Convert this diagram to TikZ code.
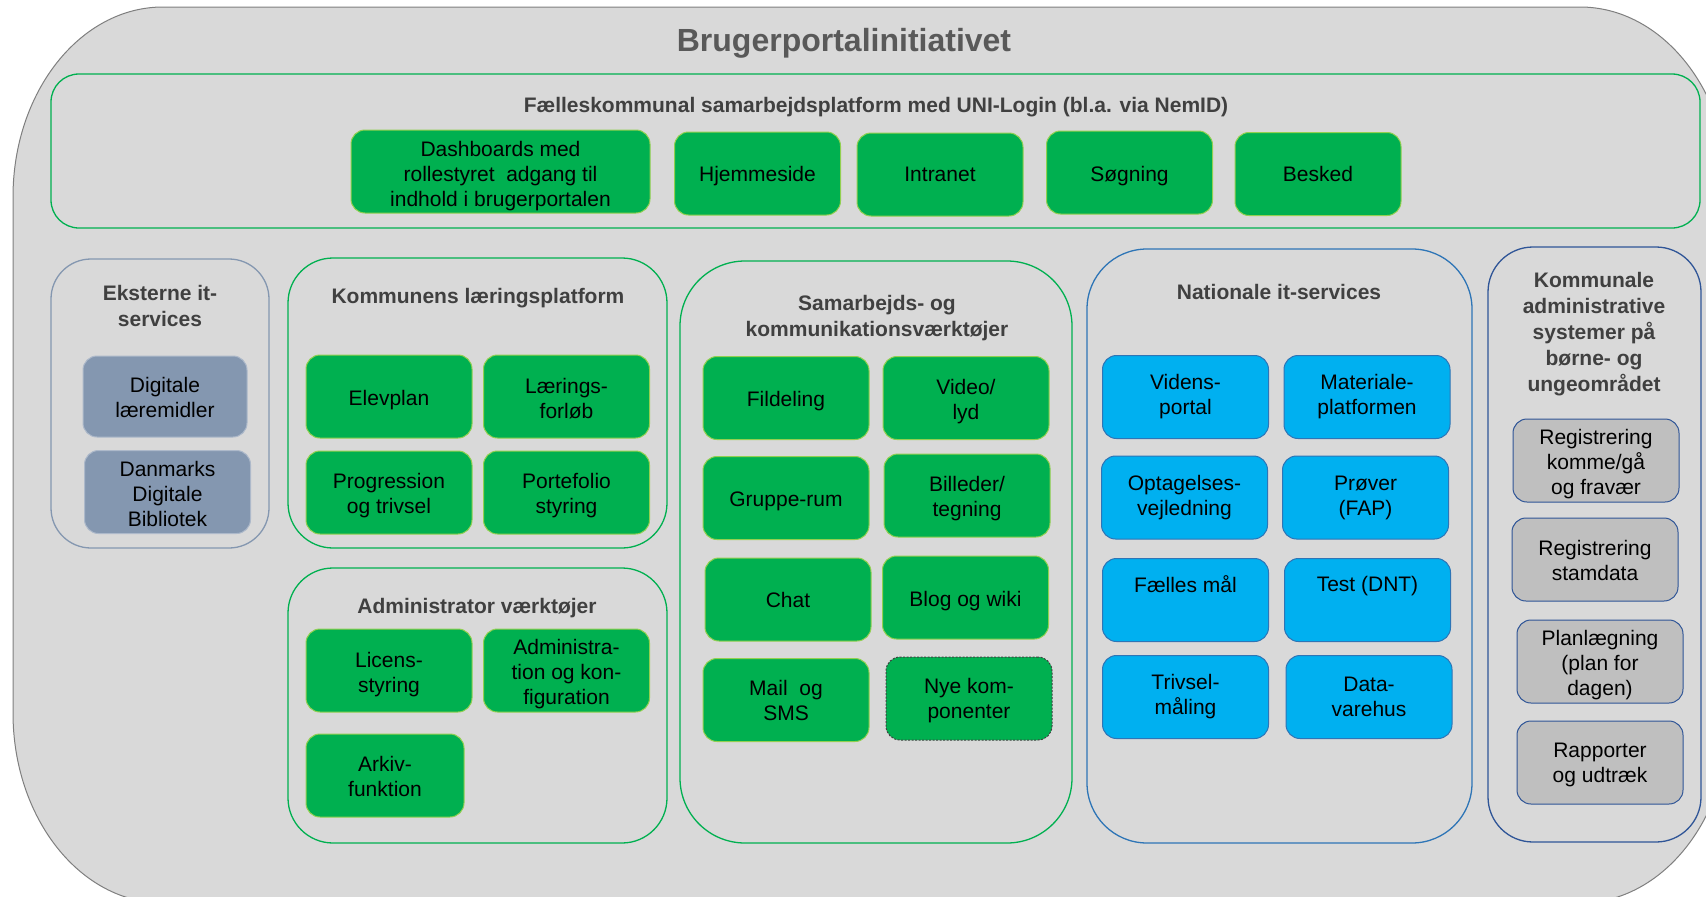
\documentclass[tikz,border=0pt]{standalone}
\usepackage{fontspec}
\setmainfont{Liberation Sans}
\usepackage{tikz}
\definecolor{portal}{HTML}{D9D9D9}
\definecolor{portaledge}{HTML}{7F7F7F}
\definecolor{green}{HTML}{00B050}
\definecolor{lightgreen}{HTML}{92D050}
\definecolor{skyblue}{HTML}{00B0F0}
\definecolor{midblue}{HTML}{2E75B6}
\definecolor{darkblue}{HTML}{2F5597}
\definecolor{slate}{HTML}{8497B0}
\definecolor{slateedge}{HTML}{ADB9CA}
\definecolor{boxgray}{HTML}{BFBFBF}
\definecolor{headgray}{HTML}{404040}
\definecolor{titlegray}{HTML}{595959}
% invisible strut that pushes the first line of a box down
\newcommand\lft[1]{\rule{0pt}{#1}}

\begin{document}
\begin{tikzpicture}[x=1pt, y=-1pt,
  box/.style={rectangle, rounded corners=14pt, minimum width=166pt, minimum height=83pt,
    align=center, inner sep=2pt, line width=1pt, font=\fontsize{21}{25}\selectfont},
  grbox/.style={box, fill=green, draw=lightgreen},
  blbox/.style={box, fill=skyblue, draw=midblue},
  gybox/.style={box, fill=boxgray, draw=darkblue},
  exbox/.style={box, fill=slate, draw=slateedge},
  frame/.style={rounded corners=#1, line width=1.3pt},
  frame/.default=45pt,
  head/.style={font=\fontsize{21}{26}\selectfont\bfseries, text=headgray, align=center}]
\useasboundingbox (0,0) rectangle (1706,897);
\clip (0,0) rectangle (1706,897);

% outer shape
\draw[fill=portal, draw=portaledge, line width=1pt] (163,7) -- (1580,7)
  arc[start angle=-90, end angle=0, x radius=150, y radius=190] -- (1730,713)
  arc[start angle=0, end angle=90, x radius=150, y radius=190] -- (163,903)
  arc[start angle=90, end angle=180, x radius=150, y radius=190] -- (13,197)
  arc[start angle=180, end angle=270, x radius=150, y radius=190] -- cycle;
\node[font=\fontsize{32}{36}\selectfont\bfseries, text=titlegray] (title) at (844,43.5) {Brugerportalinitiativet};

% top platform
\draw[frame=28pt, draw=green] (51,74) rectangle (1700,228);
\node[head] (platform) at (876,107.5) {Fælleskommunal samarbejdsplatform med UNI-Login (bl.a. via NemID)};
\node[grbox, minimum width=299pt] (dash) at (500.5,171.5) {\lft{24pt}Dashboards med\\rollestyret\ \ adgang til\\indhold i brugerportalen};
\node[grbox] (hjem) at (757.5,173.5) {\lft{20.5pt}Hjemmeside};
\node[grbox] (intra) at (940,174.5) {Intranet};
\node[grbox] (soeg) at (1129.5,172.5) {\lft{22pt}Søgning};
\node[grbox] (besked) at (1318,174) {Besked};

% eksterne
\draw[frame=40pt, draw=slate] (51,259) rectangle (269,548);
\node[head] (ekst) at (160,306) {Eksterne it-\\services};
\node[exbox, minimum width=164pt, minimum height=81pt] (laere) at (165,396.5) {\lft{17pt}Digitale\\læremidler};
\node[exbox] (ddb) at (167.5,492) {\lft{18.5pt}Danmarks\\Digitale\\Bibliotek};

% laeringsplatform
\draw[frame, draw=green] (288,258) rectangle (667,548);
\node[head] (kom) at (478,298) {Kommunens læringsplatform};
\node[grbox] (elev) at (389,396.5) {\lft{21.5pt}Elevplan};
\node[grbox] (forloeb) at (566.5,396.5) {\lft{19.5pt}Lærings-\\forløb};
\node[grbox] (prog) at (389,492.5) {\lft{20.5pt}Progression\\og trivsel};
\node[grbox] (port) at (566.5,492.5) {\lft{20.5pt}Portefolio\\styring};

% administrator
\draw[frame, draw=green] (288,568) rectangle (667,843);
\node[head] (adm) at (477,608) {Administrator værktøjer};
\node[grbox] (licens) at (389,670.5) {\lft{22.5pt}Licens-\\styring};
\node[grbox] (konf) at (566.5,670.5) {\lft{22.5pt}Administra-\\tion og kon-\\figuration};
\node[grbox, minimum width=158pt] (arkiv) at (385,775.5) {\lft{17pt}Arkiv-\\funktion};

% samarbejde
\draw[frame=65pt, draw=green] (680,261) rectangle (1072,843);
\node[head] (sam) at (877,318.5) {Samarbejds- og\\kommunikationsværktøjer};
\node[grbox] (fil) at (786,398) {\lft{21.5pt}Fildeling};
\node[grbox] (video) at (966,398) {\lft{21.5pt}Video/\\lyd};
\node[grbox] (rum) at (786,498) {\lft{21.5pt}Gruppe-rum};
\node[grbox] (bill) at (967,495.5) {\lft{20.5pt}Billeder/\\tegning};
\node[grbox] (chat) at (788,599.5) {Chat};
\node[grbox] (blog) at (965.5,597.5) {\lft{23pt}Blog og wiki};
\node[grbox] (mail) at (786,700) {Mail\ \ og\\SMS};
\node[grbox, draw=headgray, dash pattern=on 2pt off 1.5pt] (nye) at (969,698.5) {\lft{19.5pt}Nye kom-\\ponenter};

% nationale
\draw[frame=60pt, draw=midblue] (1087,249) rectangle (1472,843);
\node[head] (nat) at (1279,292) {Nationale it-services};
\node[blbox] (videns) at (1185.5,397) {Videns-\\portal};
\node[blbox] (mat) at (1367,397) {Materiale-\\platformen};
\node[blbox] (optag) at (1184.5,497.5) {Optagelses-\\vejledning};
\node[blbox] (proev) at (1365.5,497.5) {Prøver\\(FAP)};
\node[blbox] (maal) at (1185.5,600) {Fælles mål\\[6.5pt]~};
\node[blbox] (dnt) at (1367.5,600) {Test (DNT)\\[6.5pt]~};
\node[blbox] (trivsel) at (1185.5,697) {Trivsel-\\måling};
\node[blbox] (data) at (1369,697) {Data-\\varehus};

% kommunale systemer
\draw[frame, draw=darkblue] (1488,247) rectangle (1701,842);
\node[head] (kadm) at (1594,334.5) {Kommunale\\administrative\\systemer på\\børne- og\\ungeområdet};
\node[gybox] (komme) at (1596,460.5) {\lft{21.5pt}Registrering\\komme/gå\\og fravær};
\node[gybox] (stam) at (1595,559.5) {\lft{17pt}Registrering\\stamdata};
\node[gybox] (plan) at (1600,661.5) {\lft{22.5pt}Planlægning\\(plan for\\dagen)};
\node[gybox] (rapp) at (1600,762.5) {\lft{19.5pt}Rapporter\\og udtræk};
\end{tikzpicture}
\end{document}
